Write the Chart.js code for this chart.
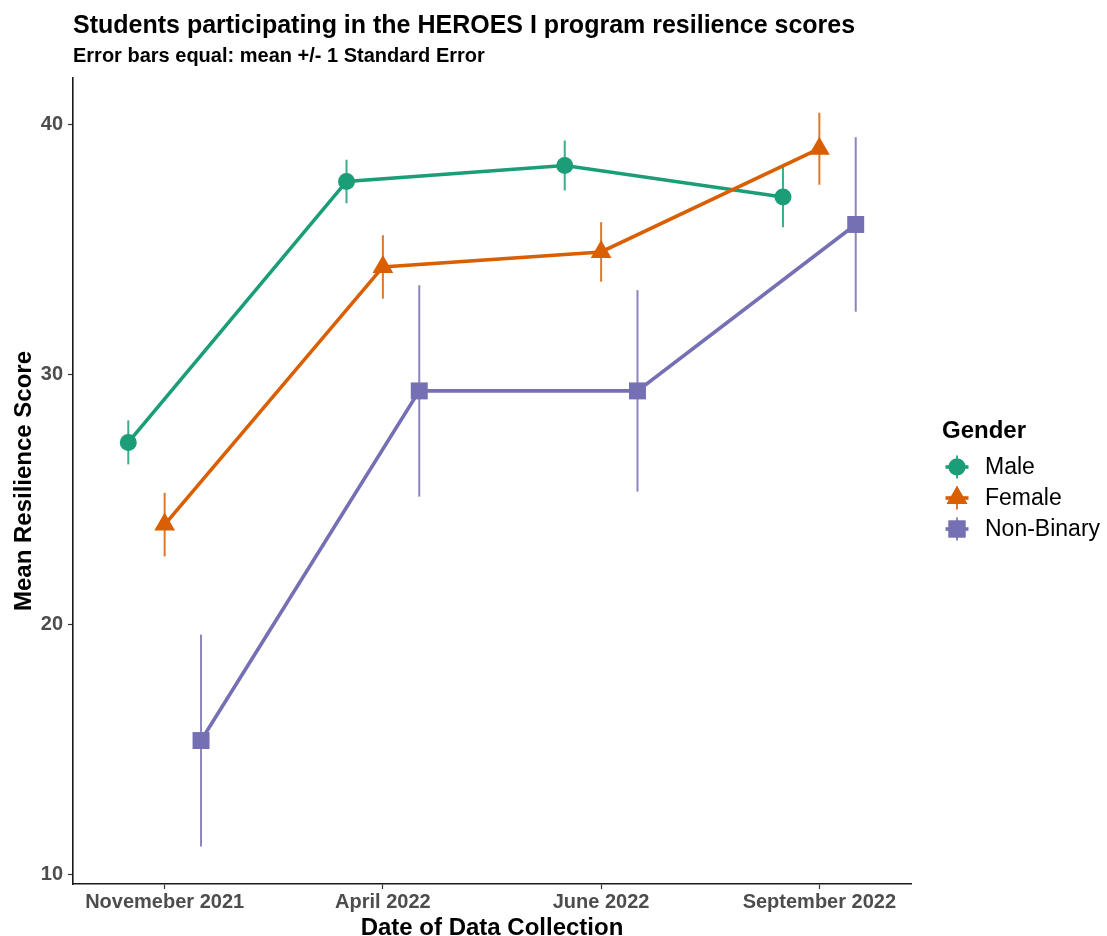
<!DOCTYPE html>
<html>
<head>
<meta charset="utf-8">
<title>HEROES I resilience scores</title>
<script src="https://cdn.jsdelivr.net/npm/chart.js@4.4.1/dist/chart.umd.min.js"></script>
<style>
  html, body { margin: 0; padding: 0; background: #ffffff; }
  canvas { display: block; }
</style>
</head>
<body>
<canvas id="chart" width="1107" height="936"></canvas>
<script>
// Collection waves (x categories) and y-axis tick values
const dates = ['Novemeber 2021', 'April 2022', 'June 2022', 'September 2022'];
const yTicks = [10, 20, 30, 40];
const genders = ['Male', 'Female', 'Non-Binary'];

// Mean resilience score per wave, with one standard error
const maleMean = [27.27, 37.71, 38.35, 37.09];
const maleSE = [0.88, 0.87, 1.00, 1.21];
const femaleMean = [23.98, 34.29, 34.89, 39.02];
const femaleSE = [1.27, 1.27, 1.19, 1.44];
const nonBinaryMean = [15.34, 29.33, 29.33, 35.99];
const nonBinarySE = [4.24, 4.23, 4.03, 3.49];

const FONT = '"Liberation Sans", Arial, Helvetica, sans-serif';
Chart.defaults.font.family = FONT;

const palette = ['#1B9E77', '#D95F02', '#7570B3'];
const shapes = ['circle', 'triangle', 'rect'];
const radii = [8.5, 12, 12];
const dodge = 0.5 / 3;   // horizontal dodge between gender groups

const means = [maleMean, femaleMean, nonBinaryMean];
const errors = [maleSE, femaleSE, nonBinarySE];

const datasets = genders.map((g, k) => ({
  label: g,
  data: means[k].map((m, i) => ({ x: i + 1 + (k - 1) * dodge, y: m })),
  se: errors[k],
  borderColor: palette[k],
  backgroundColor: palette[k],
  borderWidth: 3.6,
  pointStyle: shapes[k],
  pointRadius: radii[k],
  pointHoverRadius: radii[k],
  pointBorderWidth: 0,
  pointBackgroundColor: palette[k],
  tension: 0,
  order: 3 - k
}));

function hexA(hex, a) {
  const n = parseInt(hex.slice(1), 16);
  return `rgba(${(n >> 16) & 255},${(n >> 8) & 255},${n & 255},${a})`;
}

// vertical mean +/- SE bars, drawn beneath the lines
const errorBars = {
  id: 'errorBars',
  beforeDatasetsDraw(chart) {
    const { ctx, scales: { x, y } } = chart;
    ctx.save();
    chart.data.datasets.forEach((ds, k) => {
      ctx.strokeStyle = hexA(palette[k], 0.85);
      ctx.lineWidth = 2;
      ds.data.forEach((p, i) => {
        const px = x.getPixelForValue(p.x);
        ctx.beginPath();
        ctx.moveTo(px, y.getPixelForValue(p.y - ds.se[i]));
        ctx.lineTo(px, y.getPixelForValue(p.y + ds.se[i]));
        ctx.stroke();
      });
    });
    ctx.restore();
  }
};

// title, subtitle and the gender key
const decorations = {
  id: 'decorations',
  afterDraw(chart) {
    const { ctx, chartArea } = chart;
    ctx.save();
    ctx.fillStyle = '#000';
    ctx.textAlign = 'left';
    ctx.textBaseline = 'alphabetic';
    ctx.font = `bold 25px ${FONT}`;
    ctx.fillText('Students participating in the HEROES I program resilience scores', chartArea.left, 33);
    ctx.font = `bold 20px ${FONT}`;
    ctx.fillText('Error bars equal: mean +/- 1 Standard Error', chartArea.left, 62);

    const kx = chartArea.right + 46;
    const tx = chartArea.right + 74;
    ctx.textBaseline = 'middle';
    ctx.font = `bold 24px ${FONT}`;
    ctx.fillText('Gender', chartArea.right + 31, 431);
    genders.forEach((g, k) => {
      const ky = 467 + k * 31;
      ctx.strokeStyle = palette[k];
      ctx.lineWidth = 3.6;
      ctx.beginPath();
      ctx.moveTo(kx - 11.5, ky);
      ctx.lineTo(kx + 11.5, ky);
      ctx.stroke();
      ctx.strokeStyle = hexA(palette[k], 0.85);
      ctx.lineWidth = 2;
      ctx.beginPath();
      ctx.moveTo(kx, ky - 11.5);
      ctx.lineTo(kx, ky + 11.5);
      ctx.stroke();
      ctx.fillStyle = palette[k];
      Chart.helpers.drawPoint(ctx, { pointStyle: shapes[k], radius: radii[k], borderWidth: 0 }, kx, ky);
      ctx.fill();
      ctx.fillStyle = '#000';
      ctx.font = `23px ${FONT}`;
      ctx.fillText(g, tx, ky + 1);
    });
    ctx.restore();
  }
};

new Chart(document.getElementById('chart'), {
  type: 'line',
  data: { datasets },
  plugins: [errorBars, decorations],
  options: {
    responsive: false,
    animation: false,
    devicePixelRatio: 1,
    layout: { padding: { left: 0, top: 78, right: 196, bottom: 0 } },
    plugins: { legend: { display: false }, tooltip: { enabled: false } },
    scales: {
      x: {
        type: 'linear',
        min: 0.58,
        max: 4.42,
        afterBuildTicks(s) { s.ticks = dates.map((_, i) => ({ value: i + 1 })); },
        afterFit(s) { s.height = 52; },
        ticks: {
          autoSkip: false,
          maxRotation: 0,
          padding: 1,
          color: '#4D4D4D',
          font: { size: 20, weight: 'bold' },
          callback: v => dates[v - 1]
        },
        grid: { drawOnChartArea: false, drawTicks: true, tickLength: 5, tickColor: '#333333', tickWidth: 1.2 },
        border: { display: true, color: '#1a1a1a', width: 1.6 },
        title: {
          display: true,
          text: 'Date of Data Collection',
          color: '#000',
          font: { size: 24, weight: 'bold', lineHeight: 1 },
          padding: { top: 0, bottom: -4 }
        }
      },
      y: {
        type: 'linear',
        min: 9.6,
        max: 41.85,
        afterBuildTicks(s) { s.ticks = yTicks.map(v => ({ value: v })); },
        afterFit(s) { s.width = 73; },
        ticks: {
          padding: 5,
          color: '#4D4D4D',
          font: { size: 20, weight: 'bold' }
        },
        grid: { drawOnChartArea: false, drawTicks: true, tickLength: 5, tickColor: '#333333', tickWidth: 1.2 },
        border: { display: true, color: '#1a1a1a', width: 1.6 },
        title: {
          display: true,
          text: 'Mean Resilience Score',
          color: '#000',
          font: { size: 24, weight: 'bold', lineHeight: 1 },
          padding: { top: 12, bottom: 0 }
        }
      }
    }
  }
});
</script>
</body>
</html>
